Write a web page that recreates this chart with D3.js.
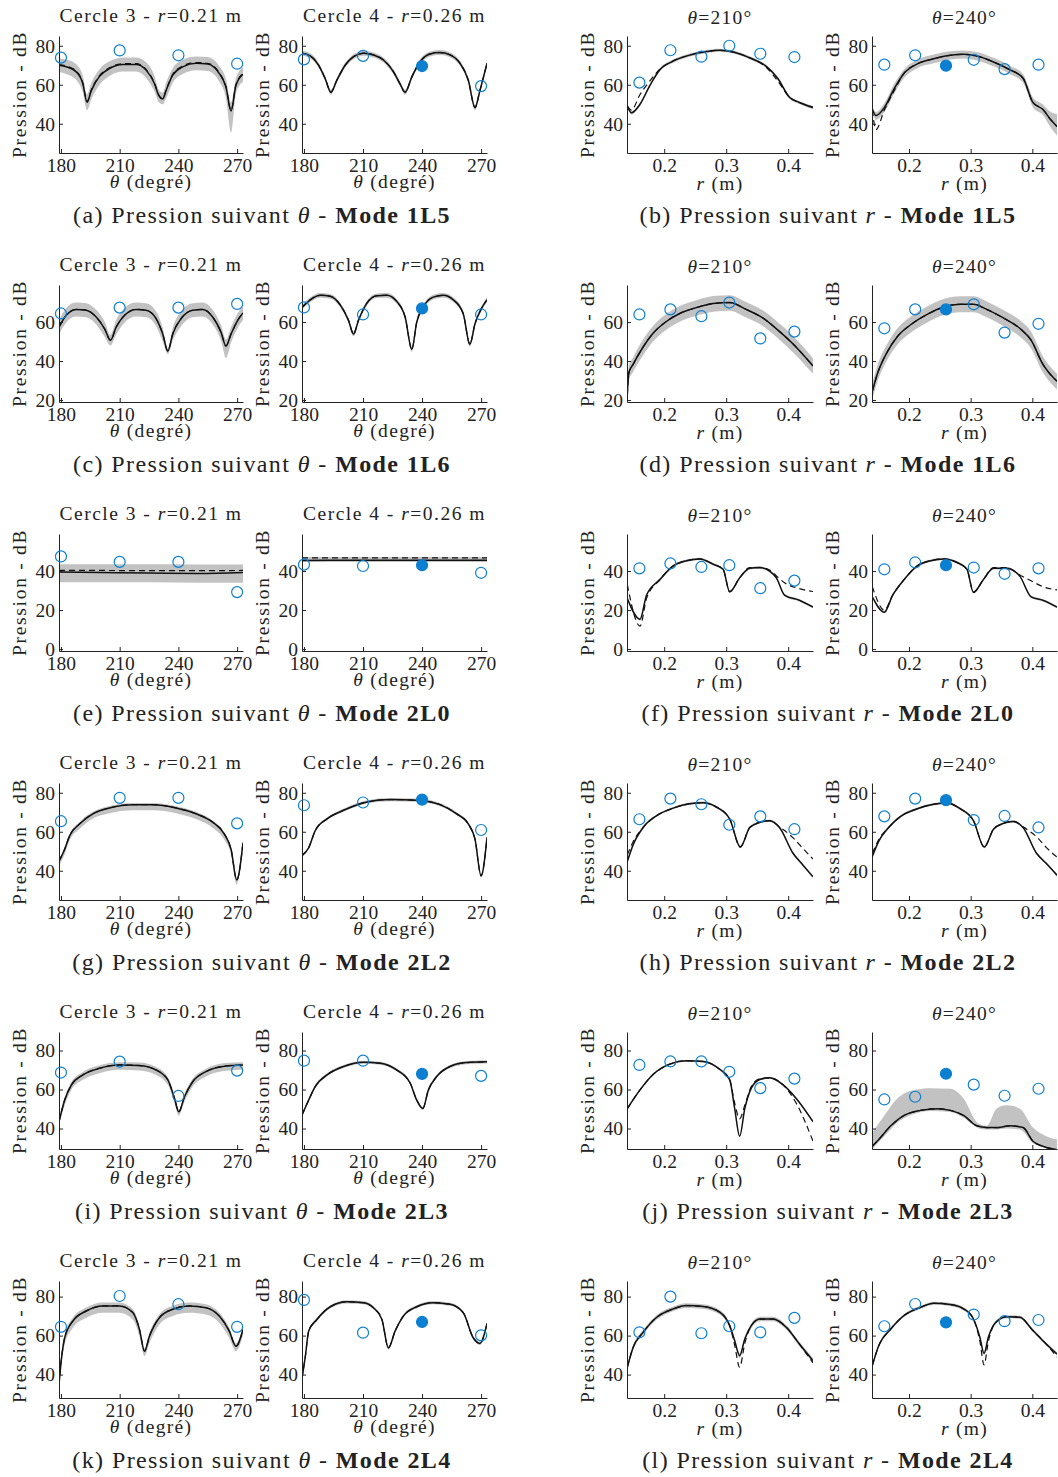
<!DOCTYPE html>
<html><head><meta charset="utf-8">
<script src="https://cdn.jsdelivr.net/npm/d3@7"></script>
<style>
body{margin:0;background:#fff}
svg text{font-family:"Liberation Serif",serif;fill:#222}
</style>
</head><body>
<svg id="fig" width="1058" height="1477"></svg>
<script>
// ---------- shared categories / ticks ----------
const modes = ["1L5","1L6","2L0","2L2","2L3","2L4"];
const letters = [["a","b"],["c","d"],["e","f"],["g","h"],["i","j"],["k","l"]];
const thetaObs = [180, 210, 240, 270];
const rObs = [0.16, 0.21, 0.26, 0.305, 0.355, 0.41];
const thetaTicks = [180, 210, 240, 270];
const rTicks = [0.2, 0.3, 0.4];
const yDomains = [[25,85],[19,79],[-1,59],[25,85],[29.5,89.5],[28,88]];
const yTicks = [[40,60,80],[20,40,60],[0,20,40],[40,60,80],[40,60,80],[40,60,80]];
const filledIdx = [-1, 2, -1, 2]; // filled marker: Cercle 4 at 240°, θ=240° at r=0.26

// ---------- Mode 1L5 ----------
const a3_x = [179,182.7,187.8,191.2,193.3,195.5,199.7,204.8,211.6,218.4,223.5,227.8,230,232,233.7,237.1,242.2,249,255,260.9,264.3,266.9,269.4,273];
const a3_y = [70,69.2,66.6,60.5,51,57,64.3,68.3,70.4,70.4,67.5,60.5,54.4,52.7,57,64.9,69.2,71,70.6,65.7,58.8,46.6,59.7,65.4];
const a3_d = [70.4,69.6,67,60.8,51.3,57.3,64.7,68.7,70.8,70.8,67.9,60.8,54.7,52.9,57.3,65.3,69.6,71.4,71,66.1,59.1,46.8,60,65.8];
const a3_hi = [73.5,73,70.5,64.5,55,61,68,72,74,74,71.5,64.5,57.5,56,61,68.5,72.8,74.5,74.2,69.5,63,51,63.5,69];
const a3_lo = [66.5,65.5,62.5,56,47,52.5,60,64.5,66.8,66.8,63.5,56.5,51,50,53,61,65.5,67.5,67,61.5,53,35.5,55.5,61.5];
const a3_obs = [73.9,77.6,75.1,70.8];

const a4_x = [179,183.2,187.4,190.8,193.7,196.7,201,205.2,210.3,215.3,220.4,225.5,228.8,231.4,234.8,239,244.1,249.1,254.2,259.3,263.5,266.9,269.4,273];
const a4_y = [76.2,74.8,70.1,63.1,56.2,62.3,70.1,74.4,76.2,75.3,72.7,66.6,60.5,56.2,64,71.8,75.8,76.5,75.3,71,62.3,48.3,57,71];
const a4_hi = [77.5,76.1,71.4,64.4,57.5,63.6,71.4,75.7,77.5,76.6,74,67.9,61.8,57.5,65.3,73.1,77.1,77.8,76.6,72.3,63.6,49.6,58.3,72.3];
const a4_lo = [74.9,73.5,68.8,61.8,54.9,61,68.8,73.1,74.9,74,71.4,65.3,59.2,54.9,62.7,70.5,74.5,75.2,74,69.7,61,47,55.7,69.7];
const a4_obs = [73,74.8,69.6,59.3];

const b210_x = [0.1405,0.147,0.161,0.177,0.193,0.2145,0.241,0.268,0.2895,0.311,0.338,0.3646,0.383,0.402,0.418,0.44];
const b210_y = [49.2,45.6,50,59.7,67.7,72.1,75.2,77,77.7,76.8,73.8,69.4,63.3,53.6,50.9,48.3];
const b210_d = [49,47,55,62,68,72.3,75.2,77,77.7,76.8,73.8,69,62,53.6,50.9,48.5];
const b210_hi = [50,46.4,50.8,60.5,68.5,72.9,76,77.8,78.5,77.6,74.6,70.2,64.1,54.4,51.7,49.1];
const b210_lo = [48.4,44.8,49.2,58.9,66.9,71.3,74.4,76.2,76.9,76,73,68.6,62.5,52.8,50.1,47.5];
const b210_obs = [61.1,77.7,74.4,80,75.9,74.2];

const b240_x = [0.1405,0.1464,0.16,0.176,0.192,0.2134,0.24,0.267,0.2885,0.31,0.337,0.3635,0.385,0.401,0.417,0.43,0.44];
const b240_y = [47.4,44.2,48.3,58,65.9,70.7,73.3,75.1,75.6,74.7,71.7,67.7,63.3,50.9,47.4,42,38.6];
const b240_d = [47,37,47,57,65.9,70.7,73.3,75.1,75.6,74.7,71.7,67.7,63.3,50.9,47.4,42,38.6];
const b240_hi = [49,46,50.5,60.5,68,72.8,75.5,77.2,77.6,76.8,73.8,69.8,65.5,53.5,50,46,45];
const b240_lo = [46,42,46,55.5,63.5,68.5,71,73,73.5,72.5,69.5,65.5,61,48.5,44.5,38,34];
const b240_obs = [70.3,75.1,69.8,72.8,68,70.3];

// ---------- Mode 1L6 ----------
const c3_x = [179,182.7,187.8,192.9,198,202.3,205.3,208.2,212.5,218.4,223.5,228.6,232,234.6,237.1,241.4,247.3,252.4,257.5,261.8,264.3,266.9,270.3,273];
const c3_y = [57.4,63.5,66.5,66.1,62.6,56.5,50.7,57.4,63.5,66.5,66.1,61.8,53.9,45.1,53.9,61.8,66.1,66.5,62.6,54.7,47.7,53.9,60.9,64.7];
const c3_hi = [61,67.2,70,69.7,66.3,60.3,53.5,61,67.2,70,69.7,65.5,57,46.5,57,65.5,69.7,70,66.3,58.3,51,57.5,64.5,68.2];
const c3_lo = [53.8,59.8,62.8,62.5,58.8,52.5,48,53.5,59.8,62.8,62.5,58,50,43.5,50.5,58,62.5,62.8,58.8,50.5,41.5,49.5,57,61];
const c3_obs = [64.4,67.4,67.4,69.3];

const c4_x = [179,183.2,188.3,193.4,198.4,202.6,205.2,207.7,211.9,217,222.1,227.2,231.4,234.8,237.3,240.7,245.7,250.8,255.9,260.9,264.3,266.9,270.2,273];
const c4_y = [67.5,71.4,73.7,73.2,68.8,60.9,53.9,60.9,69.6,73.5,73.7,70.5,62.6,46,60,67.9,72.8,73.7,71.4,64.4,48.6,59.1,67,71.4];
const c4_hi = [68.7,72.6,74.9,74.4,70,62.1,55.1,62.1,70.8,74.7,74.9,71.7,63.8,47.2,61.2,69.1,74,74.9,72.6,65.6,49.8,60.3,68.2,72.6];
const c4_lo = [66.3,70.2,72.5,72,67.6,59.7,52.7,59.7,68.4,72.3,72.5,69.3,61.4,44.8,58.8,66.7,71.6,72.5,70.2,63.2,47.4,57.9,65.8,70.2];
const c4_obs = [67.5,63.9,67,63.9];

const d210_x = [0.1405,0.143,0.15,0.166,0.182,0.204,0.225,0.252,0.279,0.3056,0.332,0.359,0.383,0.4075,0.44];
const d210_y = [22.6,34,38.4,47.2,54.2,60.4,64.4,67.4,69.5,70,66.5,62.1,56,48.9,37.5];
const d210_hi = [26,37.5,42,51,58,64.2,68.2,71.2,73.3,73.8,70.3,66,60,53,41.5];
const d210_lo = [20,30,34.5,43,50,56.2,60.2,63.2,65.3,65.8,62.3,58,51.8,44.5,33.5];
const d210_obs = [63.9,66.5,63,70,51.6,55.1];

const d240_x = [0.1405,0.1485,0.1646,0.181,0.2027,0.2295,0.256,0.283,0.3045,0.326,0.353,0.3796,0.398,0.417,0.44];
const d240_y = [24.4,33.2,44.6,52.5,58.6,63.9,67.7,69.1,69.1,66.5,62.1,56.8,50.7,38.4,29.6];
const d240_hi = [28.5,37.5,48.8,56.7,62.8,68,71.8,73.2,73.2,70.6,66.2,61,55,42.5,33.5];
const d240_lo = [20.5,29,40.5,48.3,54.5,59.8,63.6,65,65,62.4,58,52.6,46.5,34.3,25.5];
const d240_obs = [56.8,66.5,66.5,69.1,54.6,59.1];

// ---------- Mode 2L0 ----------
const e3_x = [179,200,225,250,273];
const e3_y = [39.5,39.2,39,38.8,39.3];
const e3_d = [40.3,40.3,40.2,40.2,40.3];
const e3_hi = [43.5,43.5,43.5,43.4,43.3];
const e3_lo = [34.3,34.3,34.2,34,34];
const e3_obs = [47.5,44.7,44.7,29.2];

const e4_x = [179,200,225,250,273];
const e4_y = [45.4,45.5,45.5,45.5,45.5];
const e4_d = [46.8,46.8,46.8,46.8,46.8];
const e4_hi = [47.2,47.2,47.2,47.2,47.2];
const e4_lo = [44.6,44.6,44.6,44.6,44.6];
const e4_obs = [43.3,42.6,43,39.1];

const f210_x = [0.1405,0.161,0.1716,0.193,0.2145,0.236,0.2574,0.279,0.295,0.3056,0.3217,0.338,0.354,0.37,0.381,0.394,0.418,0.44];
const f210_y = [25.9,15.3,27.7,35.6,42.6,45.3,46.2,43.5,40.9,29.4,36.5,41.4,41.8,40,36.5,27.7,25,21.5];
const f210_d = [33,11.8,26,35.6,42.6,45.3,46.2,43.5,40.9,29.4,36.5,41.8,41.8,40.5,37.5,34,31,29.5];
const f210_hi = [26.5,15.9,28.3,36.2,43.2,45.9,46.8,44.1,41.5,30,37.1,42,42.4,40.6,37.1,28.3,25.6,22.1];
const f210_lo = [25.3,14.7,27.1,35,42,44.7,45.6,42.9,40.3,28.8,35.9,40.8,41.2,39.4,35.9,27.1,24.4,20.9];
const f210_obs = [41.4,43.9,42.1,43,31.2,35.1];

const f240_x = [0.1405,0.16,0.1736,0.192,0.2134,0.235,0.2563,0.278,0.294,0.3045,0.3206,0.337,0.358,0.3796,0.398,0.417,0.44];
const f240_y = [26.8,18.9,27.7,35.6,42.6,45.3,46.2,44.4,40.9,29.1,35.6,41.4,41.4,37.4,26.8,25,21.5];
const f240_d = [32,20,27.7,35.6,42.6,45.3,46.2,44.4,40.9,29.1,35.6,41.8,41.8,38,35,32,30.3];
const f240_hi = [27.4,19.5,28.3,36.2,43.2,45.9,46.8,45,41.5,29.7,36.2,42,42,38,27.4,25.6,22.1];
const f240_lo = [26.2,18.3,27.1,35,42,44.7,45.6,43.8,40.3,28.5,35,40.8,40.8,36.8,26.2,24.4,20.9];
const f240_obs = [40.9,44.4,43,41.8,38.6,41.4];

// ---------- Mode 2L2 ----------
const g3_x = [179,181.9,184.4,189.5,196.3,204.8,216.7,226.9,238.8,249,257.5,263.5,266.9,269.8,273];
const g3_y = [44.9,51,57.9,64,69.2,72.2,73.9,73.9,72.2,69.2,64.9,58.8,51,35.3,54.4];
const g3_hi = [45.5,51.8,58.8,65,70.2,73.2,74.8,74.8,73.2,70.2,65.8,59.6,51.8,36,55];
const g3_lo = [42.5,48.5,55.5,61.5,66.8,69.5,71,71,69.5,66.5,62,55.8,48.5,33,52];
const g3_obs = [65.4,77.4,77.4,64.3];

const g4_x = [179,182.4,185.7,191.7,200.1,212,223.8,237.3,249.1,257.6,263.5,266.9,270,273];
const g4_y = [47.8,51.8,60.5,66.6,71,75.3,76.5,76.2,73.9,69.2,64,56.2,37.4,57];
const g4_hi = [48.5,52.5,61.2,67.3,71.8,76.1,77.3,77,74.7,70,64.7,56.9,38.1,57.7];
const g4_lo = [47.1,51.1,59.8,65.9,70.2,74.5,75.7,75.4,73.1,68.4,63.3,55.5,36.7,56.3];
const g4_obs = [73.6,75,76.5,60.9];

const h210_x = [0.1405,0.15,0.166,0.188,0.2145,0.241,0.263,0.284,0.3056,0.3228,0.338,0.354,0.37,0.386,0.4075,0.4236,0.44];
const h210_y = [44.7,53.4,62.2,68.3,72.1,74.4,74.9,72.7,66.6,52.2,62.2,64.8,65.7,62.2,49.1,43,36.9];
const h210_d = [48.2,55,62.2,68.3,72.1,74.4,74.9,72.7,66.6,52.2,62.2,64.8,65.7,62.5,57,51.5,46];
const h210_hi = [45.3,54,62.8,68.9,72.7,75,75.5,73.3,67.2,52.8,62.8,65.4,66.3,62.8,49.7,43.6,37.5];
const h210_lo = [44.1,52.8,61.6,67.7,71.5,73.8,74.3,72.1,66,51.6,61.6,64.2,65.1,61.6,48.5,42.4,36.3];
const h210_obs = [66.4,77,74.1,63.6,67.9,61.3];

const h240_x = [0.1405,0.151,0.167,0.186,0.2134,0.24,0.2617,0.283,0.3045,0.322,0.337,0.353,0.369,0.385,0.4065,0.4225,0.44];
const h240_y = [47.3,55.2,62.2,67.8,71.8,74.1,74.8,71.8,65.7,52.2,61.3,64.3,65.3,62.2,49.1,43.8,37.7];
const h240_d = [49,56,62.2,67.8,71.8,74.1,74.8,71.8,65.7,52.2,61.3,64.3,65.3,62.5,57.5,52,47];
const h240_hi = [47.9,55.8,62.8,68.4,72.4,74.7,75.4,72.4,66.3,52.8,61.9,64.9,65.9,62.8,49.7,44.4,38.3];
const h240_lo = [46.7,54.6,61.6,67.2,71.2,73.5,74.2,71.2,65.1,51.6,60.7,63.7,64.7,61.6,48.5,43.2,37.1];
const h240_obs = [67.9,77,76.2,66,68.1,62.2];

// ---------- Mode 2L3 ----------
const i3_x = [179,181.9,185.3,191.2,199.7,209.9,220.1,228.6,234.6,238,240.2,243.1,247.3,254.1,264.3,273];
const i3_y = [43.4,54.6,62.3,67.5,70.9,72.6,72.3,70,64.9,55.5,48.6,56.3,64,69.2,72.1,72.6];
const i3_hi = [44.5,56,63.8,69,72.4,74,73.8,71.5,66.4,57,49.6,57.8,65.5,70.7,73.6,74];
const i3_lo = [42,52,59.8,65,68.4,70.1,69.8,67.5,62.4,53,46.6,53.8,61.5,66.7,69.6,70.1];
const i3_obs = [68.7,74.3,56.7,69.7];

const i4_x = [179,182.4,185.7,191.7,200.1,210.3,218.7,227.2,234,237.3,240.4,243.2,247.4,254.2,262.6,273];
const i4_y = [46.9,54.6,61.5,67.5,71.8,74,73.5,70,63.2,54.6,50.3,59.7,66.6,71.8,73.8,74.2];
const i4_hi = [47.7,55.4,62.3,68.3,72.6,74.8,74.3,70.8,64,55.4,51.1,60.5,67.4,72.6,74.6,75];
const i4_lo = [46.1,53.8,60.7,66.7,71,73.2,72.7,69.2,62.4,53.8,49.5,58.9,65.8,71,73,73.4];
const i4_obs = [74.8,74.8,68,67];

const j210_x = [0.1405,0.161,0.182,0.209,0.236,0.263,0.2895,0.3056,0.3137,0.3217,0.33,0.3405,0.354,0.37,0.3914,0.413,0.44];
const j210_y = [50.2,59.8,67.7,73,74.7,74.4,70.4,65.1,50.2,36.1,50.2,60.7,65.1,66,62.5,55.4,43.5];
const j210_d = [50.2,59.8,67.7,73,74.7,74.4,70.4,65.1,53,45,52,61.5,65.5,66,62.5,53,33.5];
const j210_hi = [50.7,60.3,68.2,73.5,75.2,74.9,70.9,65.6,50.7,36.6,50.7,61.2,65.6,66.5,63,55.9,44];
const j210_lo = [49.7,59.3,67.2,72.5,74.2,73.9,69.9,64.6,49.7,35.6,49.7,60.2,64.6,65.5,62,54.9,43];
const j210_obs = [72.6,74.4,74.4,69.1,60.7,65.6];

const j240_x = [0.1405,0.151,0.1705,0.192,0.2188,0.2456,0.267,0.2885,0.31,0.326,0.342,0.3635,0.385,0.401,0.417,0.44];
const j240_y = [30.9,34.4,41.4,46.7,49.3,50.2,49.3,46.7,41.4,40.5,40.5,41.4,40.5,33.5,30.9,29.1];
const j240_bx = [0.1405,0.16,0.181,0.208,0.235,0.267,0.2885,0.31,0.322,0.326,0.342,0.358,0.38,0.401,0.4225,0.44];
const j240_hi = [37.9,46.7,55.4,59.8,60.7,60.4,55.4,43.2,41.5,41.4,50.2,51.9,50.2,40.5,36.1,34.4];
const j240_lo = [29.5,36,43,47.5,49,48.5,45.5,40.5,39.5,39.5,39.5,40,39.5,32.5,30,28];
const j240_obs = [54.9,56.3,68.1,62.5,56.8,60.4];

// ---------- Mode 2L4 ----------
const k3_x = [179,180.2,181.9,186.1,192.9,201.4,209.9,216.7,220.1,222.7,225.2,230.3,237.1,245.6,254.1,260.9,266,269.4,273];
const k3_y = [34.8,47.7,58.9,67.5,72.6,75.2,75.2,71.8,63.2,52,59.7,69.2,73.5,75.2,74.3,70,62.3,54.6,63.2];
const k3_hi = [35.5,49,60.5,69.3,74.4,77,77,73.6,65,53.5,61.5,71,75.3,77,76.1,71.8,64,56,65];
const k3_lo = [33,44.5,55.5,64,69.1,71.7,71.7,68.3,59.7,49.5,56.2,65.7,70,71.7,70.8,66.5,58.8,52,60];
const k3_obs = [64.5,80.3,76.1,64.5];

const k4_x = [179,180.7,182.4,186.6,193.4,201.8,210.3,215.3,219.6,222.9,226.3,230.5,237.3,245.7,254.2,260.9,266,269.4,273];
const k4_y = [38.3,49.4,62.3,68.3,74.8,77.3,76.9,74.3,68.3,53.7,62.3,70,74.8,76.9,76.1,71.8,58.9,56,66.3];
const k4_hi = [39.1,50.2,63.1,69.1,75.6,78.1,77.7,75.1,69.1,54.5,63.1,70.8,75.6,77.7,76.9,72.6,59.7,56.8,67.1];
const k4_lo = [37.5,48.6,61.5,67.5,74,76.5,76.1,73.5,67.5,52.9,61.5,69.2,74,76.1,75.3,71,58.1,55.2,65.5];
const k4_obs = [78.3,61.5,67,60.1];

const l210_x = [0.1405,0.15,0.166,0.188,0.2145,0.236,0.263,0.2895,0.3056,0.3137,0.3217,0.33,0.3405,0.354,0.3753,0.3968,0.418,0.44];
const l210_y = [43.8,54,61.7,69.4,73.7,75.4,74.9,72,65.1,57.4,49.7,58.3,65.1,68.5,68.5,64.3,55.7,47.2];
const l210_d = [43.8,54,61.7,69.4,73.7,75.4,74.9,72,65.1,55,43.8,56,65.1,68.5,68.5,64.3,55.7,46];
const l210_hi = [45,55.2,62.9,70.6,74.9,76.6,76.1,73.2,66.3,58.6,50.9,59.5,66.3,69.7,69.7,65.5,56.9,48.4];
const l210_lo = [42.6,52.8,60.5,68.2,72.5,74.2,73.7,70.8,63.9,56.2,48.5,57.1,63.9,67.3,67.3,63.1,54.5,46];
const l210_obs = [61.7,80,61.2,64.8,61.7,69.1];

const l240_x = [0.1405,0.151,0.1705,0.192,0.2188,0.24,0.267,0.2885,0.3045,0.315,0.3217,0.3287,0.3394,0.358,0.3796,0.401,0.4225,0.44];
const l240_y = [44.6,54.9,63.4,70.3,74.5,76.6,75.9,73.7,68.5,59.1,50.9,59.1,66.3,69.7,69.4,62.6,55.7,50.6];
const l240_d = [44.6,54.9,63.4,70.3,74.5,76.6,75.9,73.7,68.5,57,45,57,66.3,69.7,69.4,62.6,55.7,49];
const l240_hi = [45.4,55.7,64.2,71.1,75.3,77.4,76.7,74.5,69.3,59.9,51.7,59.9,67.1,70.5,70.2,63.4,56.5,51.4];
const l240_lo = [43.8,54.1,62.6,69.5,73.7,75.8,75.1,72.9,67.7,58.3,50.1,58.3,65.5,68.9,68.6,61.8,54.9,49.8];
const l240_obs = [64.8,76.2,66.8,70.8,67.4,68];

// ---------- panel table (row-major, 4 per row) ----------
const panels = [
  {x:a3_x,y:a3_y,d:a3_d,hi:a3_hi,lo:a3_lo,obs:a3_obs},
  {x:a4_x,y:a4_y,d:a4_y,hi:a4_hi,lo:a4_lo,obs:a4_obs},
  {x:b210_x,y:b210_y,d:b210_d,hi:b210_hi,lo:b210_lo,obs:b210_obs},
  {x:b240_x,y:b240_y,d:b240_d,hi:b240_hi,lo:b240_lo,obs:b240_obs},
  {x:c3_x,y:c3_y,d:c3_y,hi:c3_hi,lo:c3_lo,obs:c3_obs},
  {x:c4_x,y:c4_y,d:c4_y,hi:c4_hi,lo:c4_lo,obs:c4_obs},
  {x:d210_x,y:d210_y,d:d210_y,hi:d210_hi,lo:d210_lo,obs:d210_obs},
  {x:d240_x,y:d240_y,d:d240_y,hi:d240_hi,lo:d240_lo,obs:d240_obs},
  {x:e3_x,y:e3_y,d:e3_d,hi:e3_hi,lo:e3_lo,obs:e3_obs},
  {x:e4_x,y:e4_y,d:e4_d,hi:e4_hi,lo:e4_lo,obs:e4_obs},
  {x:f210_x,y:f210_y,d:f210_d,hi:f210_hi,lo:f210_lo,obs:f210_obs},
  {x:f240_x,y:f240_y,d:f240_d,hi:f240_hi,lo:f240_lo,obs:f240_obs},
  {x:g3_x,y:g3_y,d:g3_y,hi:g3_hi,lo:g3_lo,obs:g3_obs},
  {x:g4_x,y:g4_y,d:g4_y,hi:g4_hi,lo:g4_lo,obs:g4_obs},
  {x:h210_x,y:h210_y,d:h210_d,hi:h210_hi,lo:h210_lo,obs:h210_obs},
  {x:h240_x,y:h240_y,d:h240_d,hi:h240_hi,lo:h240_lo,obs:h240_obs},
  {x:i3_x,y:i3_y,d:i3_y,hi:i3_hi,lo:i3_lo,obs:i3_obs},
  {x:i4_x,y:i4_y,d:i4_y,hi:i4_hi,lo:i4_lo,obs:i4_obs},
  {x:j210_x,y:j210_y,d:j210_d,hi:j210_hi,lo:j210_lo,obs:j210_obs},
  {x:j240_x,y:j240_y,d:j240_y,bx:j240_bx,hi:j240_hi,lo:j240_lo,obs:j240_obs},
  {x:k3_x,y:k3_y,d:k3_y,hi:k3_hi,lo:k3_lo,obs:k3_obs},
  {x:k4_x,y:k4_y,d:k4_y,hi:k4_hi,lo:k4_lo,obs:k4_obs},
  {x:l210_x,y:l210_y,d:l210_d,hi:l210_hi,lo:l210_lo,obs:l210_obs},
  {x:l240_x,y:l240_y,d:l240_d,hi:l240_hi,lo:l240_lo,obs:l240_obs}
];

// ---------- layout ----------
const colX = [[59,243],[302,487],[627,813],[872,1057]];
const rowStep = 249, plotTop = 36, plotBot = 153;
const thetaDomain = [179, 273], rDomain = [0.14, 0.44];
const blue = "#0b7fd0", bandCol = "#c2c2c2";
const capX = [262, 828];

const svg = d3.select("#fig");
const defs = svg.append("defs");

function titleText(g, col, cx, y) {
  const t = g.append("text").attr("x", cx).attr("y", y).attr("text-anchor","middle")
    .attr("font-size", 19.5).attr("letter-spacing", col < 2 ? 1.5 : 1.2);
  if (col < 2) {
    t.append("tspan").text(col === 0 ? "Cercle 3 - " : "Cercle 4 - ");
    t.append("tspan").attr("font-style","italic").text("r");
    t.append("tspan").text(col === 0 ? "=0.21 m" : "=0.26 m");
  } else {
    t.append("tspan").attr("font-style","italic").text("θ");
    t.append("tspan").text(col === 2 ? "=210°" : "=240°");
  }
}

panels.forEach((p, i) => {
  const row = Math.floor(i / 4), col = i % 4;
  const oy = row * rowStep;
  const isR = col >= 2;
  const [x0, x1] = colX[col];
  const x = d3.scaleLinear().domain(isR ? rDomain : thetaDomain).range([x0, x1]);
  const y = d3.scaleLinear().domain(yDomains[row]).range([plotBot + oy, plotTop + oy]);
  const g = svg.append("g");

  const cid = "clip" + i;
  defs.append("clipPath").attr("id", cid).append("rect")
    .attr("x", x0).attr("y", plotTop + oy).attr("width", x1 - x0).attr("height", plotBot - plotTop);
  const pg = g.append("g").attr("clip-path", `url(#${cid})`);

  const bx = p.bx || p.x;
  pg.append("path")
    .attr("d", d3.area().x((v, k) => x(bx[k])).y0((v, k) => y(p.lo[k])).y1((v, k) => y(p.hi[k])).curve(d3.curveMonotoneX)(p.hi))
    .attr("fill", bandCol).attr("stroke", "none");
  const line = d3.line().x((v, k) => x(p.x[k])).y(v => y(v)).curve(d3.curveMonotoneX);
  pg.append("path").attr("d", line(p.d)).attr("fill", "none").attr("stroke", "#111")
    .attr("stroke-width", 1.2).attr("stroke-dasharray", "6,4");
  pg.append("path").attr("d", line(p.y)).attr("fill", "none").attr("stroke", "#111").attr("stroke-width", 1.5);

  // axes
  const xa = g.append("g").attr("transform", `translate(0,${plotBot + oy})`)
    .call(d3.axisBottom(x).tickValues(isR ? rTicks : thetaTicks).tickFormat(isR ? d3.format(".1f") : d3.format("d"))
      .tickSizeInner(-4).tickSizeOuter(0).tickPadding(5));
  const ya = g.append("g").attr("transform", `translate(${x0},0)`)
    .call(d3.axisLeft(y).tickValues(yTicks[row]).tickFormat(d3.format("d"))
      .tickSizeInner(-4).tickSizeOuter(0).tickPadding(4));
  [xa, ya].forEach(a => {
    a.attr("font-family", null).attr("font-size", 19.5);
    a.select(".domain").attr("stroke", "#222").attr("stroke-width", 1);
    a.selectAll(".tick line").attr("stroke", "#222");
    a.selectAll("text").attr("fill", "#222");
  });

  // observations
  const ox = isR ? rObs : thetaObs;
  g.selectAll("circle.obs").data(p.obs).enter().append("circle")
    .attr("cx", (v, k) => x(ox[k])).attr("cy", v => y(v)).attr("r", 5.5)
    .attr("fill", (v, k) => k === filledIdx[col] ? blue : "none")
    .attr("stroke", blue).attr("stroke-width", 1.2);

  // titles and labels
  const cx = (x0 + x1) / 2;
  titleText(g, col, cx, (isR ? 24 : 22) + oy);
  const xl = g.append("text").attr("x", cx).attr("y", (isR ? 190 : 188) + oy).attr("text-anchor", "middle")
    .attr("font-size", 19.5).attr("letter-spacing", 1.3);
  if (isR) { xl.append("tspan").attr("font-style","italic").text("r"); xl.append("tspan").text(" (m)"); }
  else { xl.append("tspan").attr("font-style","italic").text("θ"); xl.append("tspan").text(" (degré)"); }
  g.append("text").attr("transform", `translate(${x0 - 33},${(plotTop + plotBot) / 2 + oy}) rotate(-90)`)
    .attr("text-anchor", "middle").attr("font-size", 19.5).attr("letter-spacing", 1.7).text("Pression - dB");
});

// captions
modes.forEach((m, row) => {
  [0, 1].forEach(side => {
    const t = svg.append("text").attr("x", capX[side]).attr("y", 223 + row * rowStep)
      .attr("text-anchor", "middle").attr("font-size", 24).attr("letter-spacing", 1.4);
    t.append("tspan").text(`(${letters[row][side]}) Pression suivant `);
    t.append("tspan").attr("font-style", "italic").text(side === 0 ? "θ" : "r");
    t.append("tspan").text(" - ");
    t.append("tspan").attr("font-weight", "bold").text("Mode " + m);
  });
});
</script>
</body></html>
